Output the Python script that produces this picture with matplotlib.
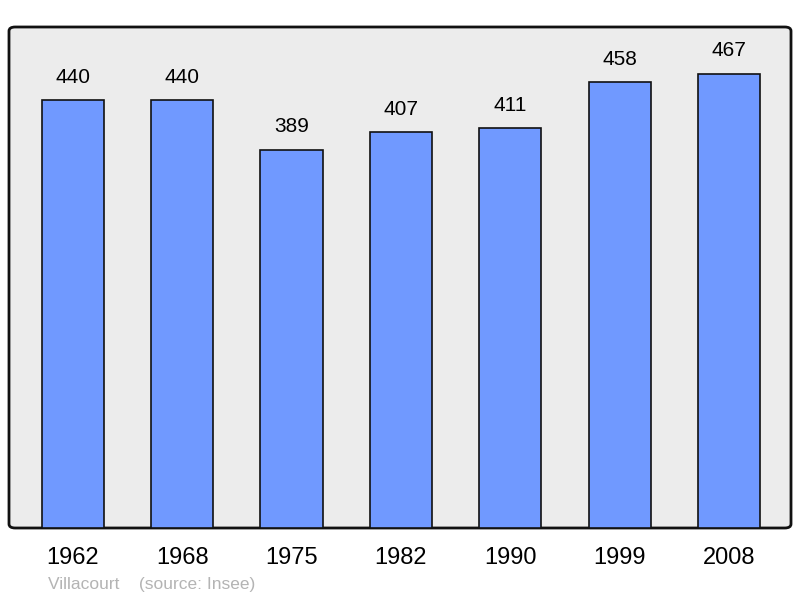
import matplotlib.pyplot as plt
from matplotlib.patches import FancyBboxPatch

# Population data
years = ["1962", "1968", "1975", "1982", "1990", "1999", "2008"]
population = [440, 440, 389, 407, 411, 458, 467]

plt.rcParams['font.family'] = ['Liberation Sans', 'DejaVu Sans']

fig = plt.figure(figsize=(8, 5.98), dpi=100)
ax = fig.add_axes([9 / 800, 1 - 528 / 598, 782 / 800, 501 / 598])
ax.set_facecolor("none")

# Rounded background frame
frame = FancyBboxPatch((0, 0), 1, 1,
                       boxstyle="round,pad=0,rounding_size=0.008",
                       transform=ax.transAxes, facecolor="#ececec",
                       edgecolor="#111111", linewidth=2, zorder=-1,
                       clip_on=False)
ax.add_patch(frame)

x = range(len(years))
bars = ax.bar(x, population, width=0.57, color="#7099ff",
              edgecolor="#111111", linewidth=1.2)

# Value labels above each bar
for i, v in enumerate(population):
    ax.annotate(str(v), (i, v), xytext=(0, 16.5), textcoords="offset points",
                ha="center", va="center", fontsize=15)

ax.set_xlim(-0.585, 6.567)
ax.set_ylim(0, 515)
for s in ax.spines.values():
    s.set_visible(False)
ax.set_yticks([])
ax.set_xticks(list(x))
ax.set_xticklabels(years, fontsize=17)
ax.tick_params(axis="x", length=0, pad=14)

fig.text(48 / 800, 1 - 584 / 598, "Villacourt    (source: Insee)",
         color="#b4b4b4", fontsize=12.5, va="center", ha="left")

plt.savefig("out.png", dpi=100)
